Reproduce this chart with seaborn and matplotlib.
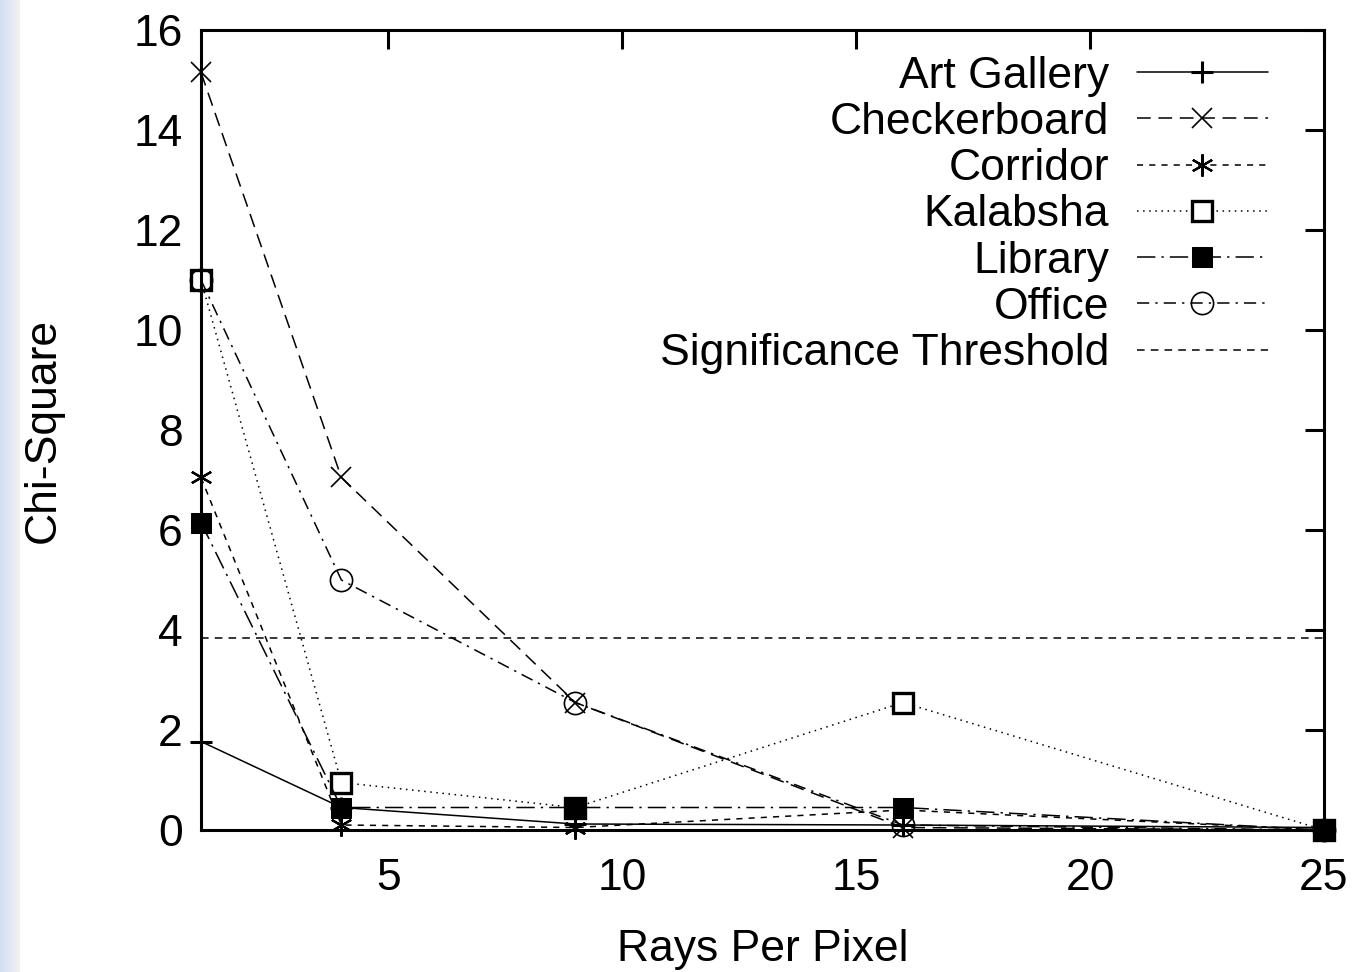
import numpy as np
import matplotlib
matplotlib.use("Agg")
import matplotlib.pyplot as plt
import seaborn as sns

# data
rays = [1, 4, 9, 16, 25]
art_gallery = [1.77, 0.45, 0.12, 0.1, 0.05]
checkerboard = [15.15, 7.05, 2.55, 0.05, 0.0]
corridor = [7.05, 0.1, 0.05, 0.4, 0.0]
kalabsha = [11.0, 0.95, 0.45, 2.55, 0.0]
library = [6.15, 0.45, 0.45, 0.45, 0.0]
office = [11.0, 5.0, 2.55, 0.1, 0.0]
threshold = 3.84

series_names = ["Art Gallery", "Checkerboard", "Corridor", "Kalabsha", "Library", "Office"]
series_values = [art_gallery, checkerboard, corridor, kalabsha, library, office]

# line / marker style per series (gnuplot look)
styles = [
    dict(linestyle="-", marker="+", markersize=16, markeredgewidth=2.2),
    dict(linestyle=(0, (9, 5)), marker="x", markersize=14, markeredgewidth=1.2),
    dict(linestyle=(0, (4, 4)), marker=(6, 2, 0), markersize=16, markeredgewidth=1.6),
    dict(linestyle=(0, (1, 3)), marker="s", markersize=15, markerfacecolor="white", markeredgewidth=2.4),
    dict(linestyle=(0, (12, 4, 1.5, 4)), marker="s", markersize=15, markerfacecolor="black"),
    dict(linestyle=(0, (8, 4, 1.5, 4)), marker="o", markersize=16, markerfacecolor="none", markeredgewidth=1.2),
]

sns.set_theme(style="white")
plt.rcParams["font.family"] = ["Liberation Sans", "DejaVu Sans"]
plt.rcParams["text.color"] = "black"
plt.rcParams["axes.labelcolor"] = "black"

fig = plt.figure(figsize=(13.69, 9.72), dpi=100)
ax = fig.add_axes([201 / 1369, 1 - 830 / 972, (1324 - 201) / 1369, 800 / 972])

for name, vals, st in zip(series_names, series_values, styles):
    sns.lineplot(x=rays, y=vals, ax=ax, color="black", linewidth=1.1,
                 markeredgecolor="black", label=name, clip_on=False, **st)

ax.axhline(threshold, color="black", linewidth=1.1, linestyle=(0, (5, 4)),
           label="Significance Threshold")

ax.set_xlim(1, 25)
ax.set_ylim(0, 16)
ax.set_xticks([5, 10, 15, 20, 25])
ax.set_yticks(np.arange(0, 17, 2))
ax.tick_params(axis="both", direction="in", length=14, width=2.2, labelsize=32,
               top=True, right=True, colors="black")
ax.tick_params(axis="x", pad=20)
ax.tick_params(axis="y", pad=13)
for sp in ax.spines.values():
    sp.set_linewidth(2.2)
    sp.set_color("black")

ax.set_xlabel("Rays Per Pixel", fontsize=32, labelpad=22)
ax.set_ylabel("Chi-Square", fontsize=32, labelpad=50)

leg = ax.legend(loc="upper right", bbox_to_anchor=(0.95, 0.968), frameon=False,
                markerfirst=False, fontsize=32, handlelength=2.95, handletextpad=0.62,
                labelspacing=0.118, borderpad=0, borderaxespad=0, numpoints=1)

# faint bluish strip at the left edge of the screenshot
strip = fig.add_axes([0, 0, 20 / 1369, 1])
grad = np.linspace(0, 1, 50)[None, :]
strip.imshow(grad, aspect="auto", cmap=sns.light_palette("#d3dff2", reverse=True, as_cmap=True))
strip.axis("off")

fig.savefig("out.png", dpi=100)
